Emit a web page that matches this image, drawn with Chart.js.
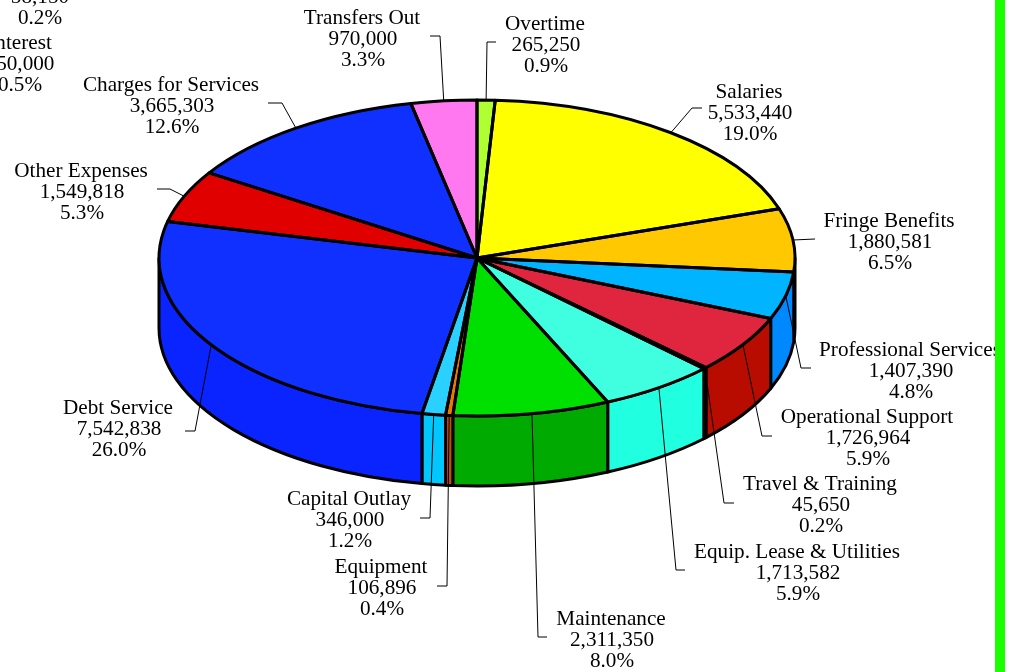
<!DOCTYPE html>
<html>
<head>
<meta charset="utf-8">
<title>Expenditures</title>
<script src="https://cdn.jsdelivr.net/npm/chart.js@4"></script>
<style>
  html, body { margin: 0; padding: 0; background: #fff; overflow: hidden; }
  #wrap { position: relative; width: 1017px; height: 672px; }
  #pie { position: absolute; left: 0; top: 0; }
  #strip { position: absolute; left: 995px; top: 0; width: 10px; height: 672px; background: #1aff00; }
</style>
</head>
<body>
<div id="wrap">
  <canvas id="pie" width="995" height="672"></canvas>
  <div id="strip"></div>
</div>
<script>
// Slices, clockwise from 12 o'clock
let categories = ['Overtime', 'Salaries', 'Fringe Benefits', 'Professional Services', 'Operational Support',
    'Travel & Training', 'Equip. Lease & Utilities', 'Maintenance', 'Equipment', 'Capital Outlay',
    'Debt Service', 'Other Expenses', 'Charges for Services', 'Transfers Out']
let values = [265250, 5533440, 1880581, 1407390, 1726964, 45650, 1713582, 2311350, 106896, 346000,
    7542838, 1549818, 3665303, 970000]
let percents = ['0.9%', '19.0%', '6.5%', '4.8%', '5.9%', '0.2%', '5.9%', '8.0%', '0.4%', '1.2%',
    '26.0%', '5.3%', '12.6%', '3.3%']

// Labels of the other pie, cut off by the top left corner of the picture
let croppedNames = ['', 'Interest']
let croppedValues = [58150, 150000]
let croppedPercents = ['0.2%', '0.5%']

let topColors = ['#b0ff30', '#ffff00', '#ffc800', '#00b4ff', '#e0263f', '#000000', '#40ffe0', '#00e000',
    '#e87a00', '#2ad0ff', '#1030ff', '#e00000', '#1030ff', '#ff78f0']
let wallColors = ['#90e020', '#e0e000', '#0088ff', '#0088ff', '#b80c00', '#000000', '#20ffe0', '#00aa00',
    '#c05000', '#00c8ff', '#0a24ff', '#b80000', '#0a24ff', '#e060d0']

// label centre x, first line y, then leader elbow and end
let labelSpots = [
    [545, 24, 487, 42, 496, 42],
    [749, 92, 692, 108, 702, 108],
    [889, 221, 793, 240, 815, 239],
    [910, 350, 801, 368, 811, 368],
    [867, 417, 762, 436, 772, 436],
    [820, 484, 724, 503, 734, 503],
    [797, 552, 676, 570, 685, 570],
    [611, 619, 538, 637, 547, 637],
    [381, 567, 447, 586, 437, 586],
    [349, 499, 430, 518, 420, 518],
    [118, 408, 195, 431, 185, 431],
    [81, 171, 170, 189, 157, 189],
    [171, 85, 282, 103, 268, 103],
    [362, 18, 440, 36, 430, 36]
]
let croppedSpots = [[40, -24], [20, 43]]

let pieCenter = [477, 258]
let squash = 158 / 318
let depth = 70
let lineGap = 21

function rimPath(ctx, arc) {
    let ry = arc.outerRadius * squash
    ctx.beginPath()
    ctx.moveTo(pieCenter[0], pieCenter[1])
    ctx.ellipse(pieCenter[0], pieCenter[1], arc.outerRadius, ry, 0, arc.startAngle, arc.endAngle)
    ctx.closePath()
}

// the side of the pie, only the part of each slice facing the viewer
function drawWalls(chart) {
    let ctx = chart.ctx
    let arcs = chart.getDatasetMeta(0).data
    ctx.save()
    ctx.strokeStyle = '#000'
    ctx.lineWidth = 3
    ctx.lineJoin = 'round'
    arcs.forEach(function(arc, i) {
        let from = Math.max(arc.startAngle, 0)
        let to = Math.min(arc.endAngle, Math.PI)
        if (to <= from) return
        let ry = arc.outerRadius * squash
        ctx.beginPath()
        ctx.ellipse(pieCenter[0], pieCenter[1], arc.outerRadius, ry, 0, from, to)
        ctx.ellipse(pieCenter[0], pieCenter[1] + depth, arc.outerRadius, ry, 0, to, from, true)
        ctx.closePath()
        ctx.fillStyle = wallColors[i]
        ctx.fill()
        ctx.stroke()
    })
    ctx.restore()
}

function drawLabels(chart) {
    let ctx = chart.ctx
    let arcs = chart.getDatasetMeta(0).data
    ctx.save()
    ctx.strokeStyle = '#000'
    ctx.lineWidth = 1
    arcs.forEach(function(arc, i) {
        let spot = labelSpots[i]
        let mid = (arc.startAngle + arc.endAngle) / 2
        ctx.beginPath()
        ctx.moveTo(pieCenter[0] + arc.outerRadius * Math.cos(mid), pieCenter[1] + arc.outerRadius * squash * Math.sin(mid))
        ctx.lineTo(spot[2], spot[3])
        ctx.lineTo(spot[4], spot[5])
        ctx.stroke()
    })
    ctx.fillStyle = '#000'
    ctx.font = '21.2px "Liberation Serif"'
    ctx.textAlign = 'center'
    ctx.textBaseline = 'middle'
    categories.forEach(function(name, i) {
        let spot = labelSpots[i]
        ctx.fillText(name, spot[0], spot[1])
        ctx.fillText(values[i].toLocaleString('en-US'), spot[0] + 1, spot[1] + lineGap)
        ctx.fillText(percents[i], spot[0] + 1, spot[1] + lineGap * 2)
    })
    croppedNames.forEach(function(name, i) {
        let spot = croppedSpots[i]
        ctx.fillText(name, spot[0], spot[1])
        ctx.fillText(croppedValues[i].toLocaleString('en-US'), spot[0], spot[1] + lineGap)
        ctx.fillText(croppedPercents[i], spot[0], spot[1] + lineGap * 2)
    })
    ctx.restore()
}

// Chart.js only does flat pies, so squash the drawing into an ellipse and add the side by hand
let tiltPlugin = {
    id: 'tilt',
    beforeDatasetsDraw: function(chart) {
        drawWalls(chart)
        let ctx = chart.ctx
        let arc = chart.getDatasetMeta(0).data[0]
        ctx.save()
        ctx.translate(pieCenter[0], pieCenter[1])
        ctx.scale(1, squash)
        ctx.translate(-arc.x, -arc.y)
    },
    afterDatasetsDraw: function(chart) {
        let ctx = chart.ctx
        ctx.restore()
        ctx.save()
        ctx.strokeStyle = '#000'
        ctx.lineWidth = 3
        ctx.lineJoin = 'round'
        chart.getDatasetMeta(0).data.forEach(function(arc) {
            rimPath(ctx, arc)
            ctx.stroke()
        })
        ctx.restore()
        drawLabels(chart)
    }
}

let pieChart = new Chart(document.querySelector('#pie').getContext('2d'), {
    type: 'pie',
    data: {
        labels: categories,
        datasets: [{
            data: values,
            backgroundColor: topColors,
            borderWidth: 0
        }]
    },
    options: {
        responsive: false,
        animation: false,
        layout: { padding: { left: 158, right: 201, top: 18, bottom: 18 } },
        plugins: { legend: { display: false }, tooltip: { enabled: false } }
    },
    plugins: [tiltPlugin]
})
</script>
</body>
</html>
